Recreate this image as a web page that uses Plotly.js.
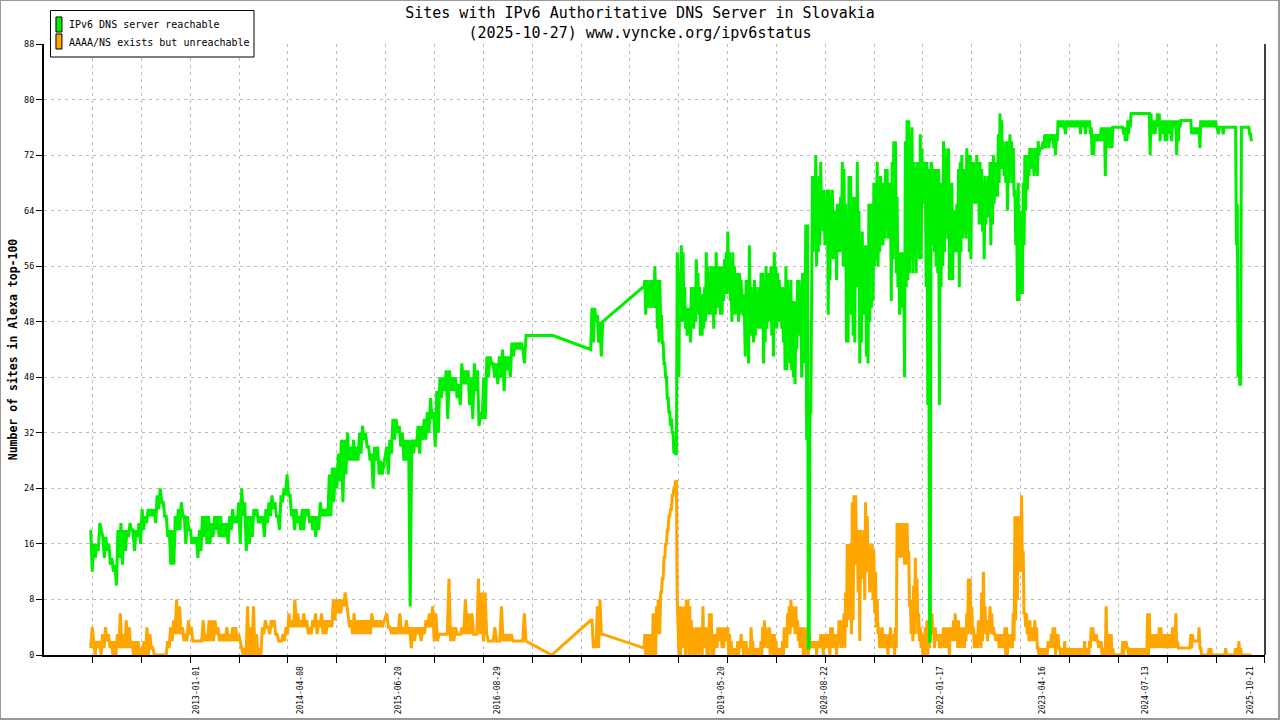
<!DOCTYPE html>
<html>
<head>
<meta charset="utf-8">
<script src="https://cdn.plot.ly/plotly-3.0.1.min.js"></script>
<style>
  body { margin: 0; background: #fff; }
  #wrap { position: relative; width: 1280px; height: 720px; }
  #chart { width: 1280px; height: 720px; }
  #frame { position: absolute; left: 0; top: 0; width: 1277px; height: 717px;
           border-style: solid; border-color: #999; border-width: 1px 2px 2px 1px;
           pointer-events: none; }
</style>
</head>
<body>
<div id="wrap"><div id="chart"></div><div id="frame"></div></div>
<script>
/* Sites with IPv6 authoritative DNS, Slovakia, Alexa top-100 */

// date labels on the x axis
var tickDates = ['2013-01-01', '2014-04-08', '2015-06-20', '2016-08-29', '2019-05-20',
                 '2020-08-22', '2022-01-17', '2023-04-16', '2024-07-13', '2025-10-21'];

// IPv6 DNS server reachable (each block: first/last day, then samples)
var okSpan1 = ['2011-09-22', '2015-04-07'];
var okVals1 = [18,12, 16,14, 16,15, 19,18, 17,14, 17,15, 16,13, 14,12, 13,10, 18,14,
  19,13, 18,15, 18,17, 19,18, 18,15, 18,17, 19,16, 21,18, 20,19, 21,20,
  21,20, 21,19, 23,21, 24,22, 22,20, 20,17, 18,13, 18,13, 20,18, 21,18,
  22,20, 20,16, 20,18, 18,16, 17,16, 17,14, 18,15, 20,17, 20,16, 20,16,
  19,17, 20,18, 20,17, 20,17, 19,17, 19,16, 20,18, 21,19, 20,19, 22,16,
  24,20, 22,15, 20,16, 20,17, 21,20, 21,19, 20,19, 20,17, 21,19, 22,20,
  23,21, 22,20, 20,18, 23,22, 24,23, 26,23, 23,20, 21,18, 21,19, 20,18,
  21,18, 21,20, 21,19, 20,18, 20,17, 20,18, 22,20, 21,20, 21,20, 26,20,
  27,22, 27,24, 29,25, 31,22, 31,26, 32,28, 30,28, 31,28, 30,28, 32,29,
  33,31, 32,30, 30,28, 29,24, 30,28, 30,26, 28,26];
var okSpan2 = ['2015-04-27', '2017-01-04'];
var okVals2 = [30,26, 31,29, 34,31, 34,32, 33,30, 32,28, 31,28, 31,7, 31,29, 31,30,
  33,29, 33,31, 34,31, 35,32, 37,34, 35,30, 38,32, 40,37, 40,38, 41,34,
  41,38, 40,38, 40,37, 39,36, 42,39, 41,39, 41,36, 40,34, 42,38, 41,33,
  35,34, 40,34, 43,40, 43,42, 42,40, 42,39, 43,40, 44,38, 43,41, 43,40,
  45,43, 45,44, 45,44, 45,44, 42,46];
var okSpan3 = ['2017-05-04', '2017-05-04'];
var okVals3 = [46];
var okSpan4 = ['2017-10-18', '2017-12-10'];
var okVals4 = [44, 50, 45, 50, 48, 49, 45, 48, 43, 48];
var okSpan5 = ['2018-06-08', '2025-10-27'];
var okVals5 = [53,53, 54,49, 54,50, 54,51, 52,50, 54,51, 53,50, 56,52, 54,47, 54,45,
  54,48, 49,45, 45,42, 42,40, 40,37, 37,35, 35,33, 34,32, 32,29, 31,29,
  29,58, 55,40, 55,48, 59,48, 58,49, 53,47, 50,46, 50,47, 50,45, 53,48,
  53,47, 53,48, 57,50, 55,49, 53,46, 51,46, 52,47, 53,48, 58,49, 56,49,
  55,49, 56,50, 56,47, 56,49, 58,50, 56,50, 56,49, 56,49, 56,51, 57,52,
  58,52, 61,53, 58,51, 54,48, 58,50, 56,49, 55,50, 55,48, 55,49, 54,50,
  52,49, 49,43, 54,45, 54,42, 59,49, 53,46, 52,45, 54,46, 53,48, 50,47,
  53,47, 55,48, 55,42, 52,45, 56,47, 55,48, 55,49, 56,46, 56,43, 58,48,
  56,47, 55,48, 54,48, 53,47, 53,45, 51,41, 56,41, 54,48, 51,42, 54,41,
  51,40, 51,39, 50,44, 54,46, 54,48, 52,40, 55,42, 55,51, 62,31, 62,1,
  1,35, 35,63, 69,58, 68,63, 72,56, 66,58, 69,59, 71,62, 67,61, 67,59,
  65,59, 67,49, 67,54, 66,60, 67,57, 64,59, 64,54, 65,59, 65,58, 66,60,
  71,56, 70,57, 65,45, 62,45, 69,54, 69,49, 66,46, 66,45, 65,53, 71,53,
  64,42, 56,45, 61,49, 57,49, 59,43, 58,42, 65,48, 65,50, 65,51, 68,56,
  68,57, 71,56, 67,58, 69,59, 68,59, 68,60, 70,63, 70,60, 68,62, 68,51,
  71,57, 74,60, 74,55, 66,53, 58,49, 58,50, 58,51, 55,40, 74,53, 77,54,
  77,55, 75,57, 76,55, 71,58, 70,55, 71,59, 68,57, 75,57, 73,66, 70,65,
  71,53, 71,36, 70,2, 2,71, 70,59, 70,58, 70,56, 70,55, 70,36, 68,53,
  68,56, 74,58, 73,65, 72,60, 73,54, 65,54, 68,54, 64,63, 63,58, 65,58,
  70,53, 71,58, 72,60, 70,63, 68,60, 73,65, 72,58, 72,57, 71,65, 71,65,
  69,65, 72,66, 71,62, 71,62, 70,61, 67,57, 69,62, 68,63, 69,64, 71,59,
  71,62, 72,65, 71,66, 71,66, 75,68, 78,70, 77,71, 74,69, 73,68, 74,64,
  74,68, 75,70, 74,68, 73,66, 67,59, 66,51, 68,51, 64,52, 62,52, 68,59,
  72,64, 72,67, 72,69, 73,71, 73,70, 72,69, 73,71, 73,69, 74,72, 73,73,
  73,73, 74,73, 75,73, 75,74, 75,73, 75,74, 75,74, 75,73, 75,72, 75,74,
  77,76, 77,76, 77,76, 77,76, 76,75, 77,76, 77,76, 77,76, 77,76, 77,76,
  77,76, 77,76, 77,76, 77,75, 77,76, 77,76, 77,75, 77,76, 77,76, 77,75,
  76,72, 75,72, 75,74, 75,74, 75,74, 75,74, 76,74, 76,75, 76,69, 76,73,
  76,74, 76,73, 76,73, 76,76, 76,76, 76,76, 76,76, 76,76, 76,76, 76,75,
  76,74, 76,74, 77,75, 77,76, 78,78, 78,78, 78,78, 78,78, 78,78, 78,78,
  78,78, 78,78, 78,78, 78,78, 78,78, 78,72, 78,75, 77,76, 77,75, 77,76,
  78,76, 78,74, 77,75, 77,76, 77,74, 77,74, 77,75, 77,76, 77,74, 77,76,
  77,76, 77,72, 77,74, 77,76, 77,77, 77,77, 77,77, 77,77, 77,77, 77,77,
  77,75, 76,75, 76,75, 76,75, 76,75, 76,73, 77,76, 77,76, 77,76, 77,76,
  77,76, 77,76, 77,76, 77,76, 77,76, 77,76, 76,75, 76,76, 76,76, 76,75,
  76,76, 76,76, 76,76, 76,76, 76,76, 76,76, 76,76, 76,59, 65,40, 49,39,
  39,76, 76,76, 76,76, 76,76, 76,76, 76,75, 75,74];

// AAAA/NS exists but unreachable
var badSpan1 = ['2011-09-22', '2015-04-07'];
var badVals1 = [1,4, 2,0, 2,1, 2,0, 3,1, 4,2, 3,1, 2,0, 2,0, 3,1,
  6,1, 3,1, 5,1, 4,1, 2,0, 2,0, 2,0, 1,0, 2,0, 4,0,
  3,1, 1,0, 0,0, 0,0, 0,0, 0,0, 2,1, 4,2, 5,3, 8,3,
  7,3, 4,2, 3,2, 5,3, 4,2, 2,2, 2,2, 2,2, 5,2, 3,2,
  5,2, 5,2, 5,3, 4,2, 3,2, 3,2, 4,2, 3,2, 4,2, 4,2,
  3,2, 1,0, 1,0, 7,0, 4,0, 7,0, 3,0, 1,0, 4,3, 5,4,
  4,3, 5,4, 5,3, 3,2, 2,2, 3,2, 4,3, 6,4, 5,4, 8,4,
  6,4, 5,4, 6,4, 5,3, 4,3, 5,4, 6,3, 5,4, 6,3, 5,3,
  5,4, 5,4, 8,5, 8,6, 8,6, 8,7, 9,7, 6,4, 5,3, 6,3,
  5,3, 5,3, 5,3, 5,3, 5,3, 6,4, 5,4, 5,4, 5,4];
var badSpan2 = ['2015-04-27', '2017-01-04'];
var badVals2 = [6,4, 4,3, 4,3, 4,3, 6,3, 4,3, 5,3, 4,1, 4,2, 4,3,
  4,2, 4,3, 5,4, 6,4, 7,2, 6,2, 3,3, 3,3, 3,3, 11,2,
  4,2, 4,3, 3,3, 4,3, 8,3, 6,3, 6,3, 3,3, 11,3, 9,2,
  9,3, 2,2, 2,2, 4,2, 2,2, 7,2, 3,2, 3,2, 3,2, 2,2,
  2,2, 2,2, 6,2];
var badSpan3 = ['2017-04-28', '2017-04-28'];
var badVals3 = [0];
var badSpan4 = ['2017-10-18', '2017-12-10'];
var badVals4 = [5, 5, 1, 2, 1, 7, 1, 8, 3, 3];
var badSpan5 = ['2018-06-08', '2025-10-27'];
var badVals5 = [1,1, 3,0, 3,0, 3,0, 3,0, 3,0, 6,0, 6,0, 7,3, 8,4,
  3,9, 9,11, 11,14, 14,16, 16,18, 18,20, 20,21, 21,23, 23,24, 24,25,
  25,8, 3,0, 7,0, 7,1, 4,1, 7,0, 8,3, 8,0, 7,0, 5,2,
  4,0, 2,0, 4,1, 4,0, 4,1, 3,0, 7,1, 4,2, 4,0, 3,0,
  6,2, 6,0, 3,0, 3,1, 3,1, 4,2, 4,2, 4,1, 3,1, 4,2,
  4,2, 4,0, 3,1, 2,0, 1,0, 1,0, 1,0, 2,0, 2,1, 3,1,
  2,0, 2,1, 2,0, 1,0, 1,0, 4,1, 2,0, 1,0, 1,0, 1,0,
  1,0, 2,0, 4,1, 5,2, 4,1, 3,1, 4,0, 3,1, 3,0, 3,0,
  2,0, 1,0, 1,0, 1,0, 2,0, 4,1, 4,1, 6,3, 7,3, 8,4,
  7,4, 6,3, 7,3, 5,2, 4,1, 4,1, 4,0, 4,0, 3,1, 4,0,
  3,1, 2,1, 2,1, 2,1, 2,0, 2,1, 2,1, 3,1, 2,0, 3,1,
  3,1, 3,1, 2,0, 4,1, 4,1, 3,1, 3,0, 3,1, 5,3, 5,1,
  4,2, 6,1, 9,4, 16,5, 16,8, 12,3, 22,5, 23,13, 23,16, 18,9,
  18,2, 18,12, 17,11, 18,8, 22,14, 20,12, 16,9, 15,12, 16,8, 15,6,
  12,4, 8,3, 4,1, 3,1, 4,1, 3,2, 3,1, 2,0, 3,1, 4,2,
  3,1, 3,0, 4,1, 19,14, 19,14, 19,14, 18,14, 19,13, 19,13, 19,13,
  15,7, 8,3, 7,2, 10,3, 14,6, 11,3, 6,2, 4,1, 3,0, 3,0,
  4,1, 5,0, 4,1, 6,3, 6,3, 4,1, 4,2, 3,2, 3,1, 3,1,
  3,2, 4,1, 4,1, 4,1, 4,0, 4,2, 4,2, 5,2, 6,3, 5,1,
  5,1, 4,1, 4,2, 4,1, 4,2, 6,3, 11,4, 11,3, 7,3, 4,1,
  3,1, 3,1, 5,2, 5,1, 9,2, 12,5, 7,3, 5,2, 5,3, 7,4,
  6,3, 4,3, 3,2, 3,2, 3,1, 3,1, 3,1, 3,2, 4,0, 4,0,
  3,1, 2,1, 3,1, 6,2, 20,5, 20,8, 20,13, 18,12, 23,12, 15,6,
  6,4, 6,3, 5,2, 5,2, 4,2, 3,2, 5,2, 4,1, 1,0, 1,0,
  1,0, 1,0, 1,0, 1,0, 2,1, 2,1, 3,1, 4,1, 4,0, 3,2,
  3,1, 1,0, 1,0, 1,0, 2,0, 1,0, 1,0, 1,0, 1,0, 1,0,
  1,0, 1,0, 1,0, 1,0, 1,0, 1,0, 2,0, 1,0, 1,0, 2,1,
  4,2, 4,2, 3,2, 3,2, 2,1, 2,1, 2,0, 1,0, 1,0, 7,0,
  3,0, 3,0, 3,0, 1,0, 0,0, 0,0, 0,0, 0,0, 0,0, 2,0,
  2,1, 2,1, 1,0, 1,0, 1,0, 1,0, 1,0, 1,0, 1,0, 1,0,
  1,0, 1,0, 1,0, 1,0, 6,0, 6,1, 3,1, 3,1, 3,1, 3,1,
  3,1, 4,1, 4,1, 2,1, 3,1, 3,1, 3,1, 3,1, 3,1, 4,1,
  4,1, 6,1, 2,1, 1,1, 1,1, 1,1, 1,1, 1,1, 1,1, 1,1,
  3,1, 3,2, 2,2, 2,2, 2,2, 4,1, 1,0, 0,0, 0,0, 0,0,
  0,0, 1,0, 1,0, 0,0, 0,0, 0,0, 0,0, 0,0, 0,0, 0,0,
  0,0, 1,0, 0,0, 0,0, 0,0, 0,0, 0,0, 1,0, 1,0, 2,0,
  1,0, 0,0, 0,0, 0,0, 0,0, 0,0, 0,0];

/* helpers: spread the samples of a block evenly over its days */
function spread(span, vals) {
  var t0 = Date.parse(span[0] + 'T00:00:00Z');
  var t1 = Date.parse(span[1] + 'T00:00:00Z');
  var n = vals.length, x = [];
  for (var i = 0; i < n; i++) {
    var t = n > 1 ? t0 + (t1 - t0) * i / (n - 1) : t0;
    x.push(new Date(t).toISOString().slice(0, 19).replace('T', ' '));
  }
  return x;
}
function join(blocks) {
  var x = [], y = [];
  blocks.forEach(function (b) {
    x = x.concat(spread(b[0], b[1]));
    y = y.concat(b[1]);
  });
  return {x: x, y: y};
}

var ok = join([[okSpan1, okVals1], [okSpan2, okVals2], [okSpan3, okVals3],
               [okSpan4, okVals4], [okSpan5, okVals5]]);
var bad = join([[badSpan1, badVals1], [badSpan2, badVals2], [badSpan3, badVals3],
                [badSpan4, badVals4], [badSpan5, badVals5]]);

var green = '#00ee00';
var orange = '#ffa500';

var traceBad = {
  x: bad.x, y: bad.y, mode: 'lines', type: 'scatter',
  name: 'AAAA/NS exists but unreachable',
  line: {color: orange, width: 3}, hoverinfo: 'skip'
};
var traceOk = {
  x: ok.x, y: ok.y, mode: 'lines', type: 'scatter',
  name: 'IPv6 DNS server reachable',
  line: {color: green, width: 3}, hoverinfo: 'skip'
};

var mono = 'DejaVu Sans Mono, Liberation Mono, monospace';
var gridCol = '#bbbbbb';

var layout = {
  width: 1280, height: 720,
  margin: {l: 44, r: 15, t: 44, b: 65},
  paper_bgcolor: '#fff', plot_bgcolor: '#fff',
  showlegend: false,
  font: {family: mono, color: '#000'},
  title: {
    text: 'Sites with IPv6 Authoritative DNS Server in Slovakia<br>(2025-10-27) www.vyncke.org/ipv6status',
    font: {family: mono, size: 15, color: '#000'},
    x: 0.5, xref: 'container', xanchor: 'center',
    y: 0.975, yref: 'container', yanchor: 'top'
  },
  xaxis: {
    type: 'date',
    range: ['2011-02-26 16:00', '2025-12-26 12:00'],
    tickmode: 'array', tickvals: tickDates, ticktext: tickDates,
    tickangle: -90, ticks: '', tickfont: {family: mono, size: 8},
    ticklabelstandoff: 6,
    showgrid: false, zeroline: false,
    showline: true, linecolor: '#000', linewidth: 2,
    minor: {
      tickmode: 'linear', tick0: '2011-02-25 08:00', dtick: 18722880000,
      ticks: 'outside', ticklen: 6, tickwidth: 1, tickcolor: '#000',
      showgrid: true, gridcolor: gridCol, gridwidth: 1, griddash: '3px,4px'
    }
  },
  yaxis: {
    range: [0, 88], tickmode: 'linear', tick0: 0, dtick: 8,
    ticks: 'outside', ticklen: 6, tickwidth: 1, tickcolor: '#000',
    tickfont: {family: mono, size: 8.5},
    showgrid: true, gridcolor: gridCol, gridwidth: 1, griddash: '3px,4px',
    zeroline: false, showline: true, linecolor: '#000', linewidth: 2,
    title: {text: '<b>Number of sites in Alexa top-100</b>',
            font: {family: mono, size: 11.5, color: '#000'}, standoff: 4}
  },
  shapes: [
    // right border of the plot
    {type: 'line', xref: 'paper', yref: 'paper', x0: 1, x1: 1, y0: 0, y1: 1,
     line: {color: '#000', width: 1.5}},
    // legend box and swatches
    {type: 'rect', xref: 'paper', yref: 'paper', x0: 0.0053, x1: 0.172, y0: 0.9787, y1: 1.0548,
     fillcolor: '#fff', line: {color: '#000', width: 1}},
    {type: 'rect', xref: 'paper', yref: 'paper', x0: 0.0098, x1: 0.0147, y0: 1.0196, y1: 1.0442,
     fillcolor: green, line: {color: '#000', width: 1}},
    {type: 'rect', xref: 'paper', yref: 'paper', x0: 0.0098, x1: 0.0147, y0: 0.9918, y1: 1.0164,
     fillcolor: orange, line: {color: '#000', width: 1}}
  ],
  annotations: [
    {xref: 'paper', yref: 'paper', x: 0.0188, y: 1.0311, xanchor: 'left', yanchor: 'middle',
     text: traceOk.name, showarrow: false, font: {family: mono, size: 10, color: '#000'}},
    {xref: 'paper', yref: 'paper', x: 0.0188, y: 1.0025, xanchor: 'left', yanchor: 'middle',
     text: traceBad.name, showarrow: false, font: {family: mono, size: 10, color: '#000'}}
  ]
};

Plotly.newPlot('chart', [traceBad, traceOk], layout, {displayModeBar: false, responsive: false});
</script>
</body>
</html>
